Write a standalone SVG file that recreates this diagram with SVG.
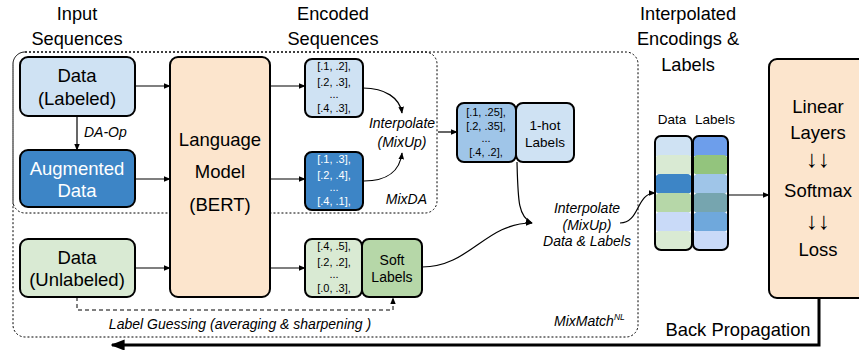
<svg xmlns="http://www.w3.org/2000/svg" width="859" height="350" viewBox="0 0 859 350">
<style>
text{font-family:"Liberation Sans",Arial,sans-serif;fill:#000}
.t{font-size:18.2px;text-anchor:middle}
.n{font-size:18.5px;text-anchor:middle}
.e{font-size:11px;text-anchor:middle}
.s{font-size:13.5px;text-anchor:middle}
.i{font-size:14px;font-style:italic}
.box{stroke:#000;stroke-width:2}
.ln{fill:none;stroke:#000;stroke-width:1.2}
.dash{fill:none;stroke:#000;stroke-width:1;stroke-dasharray:2,2}
</style>
<defs>
<marker id="ah" viewBox="0 0 10 10" refX="9" refY="5" markerWidth="7" markerHeight="7" markerUnits="userSpaceOnUse" orient="auto"><path d="M0,1 L10,5 L0,9 z" fill="#000"/></marker>
<marker id="big" viewBox="0 0 10 10" refX="9" refY="5" markerWidth="14" markerHeight="14" markerUnits="userSpaceOnUse" orient="auto"><path d="M0,1 L10,5 L0,9 z" fill="#000"/></marker>
</defs>

<g id="titles">
<text class="t" x="77" y="20">Input</text>
<text class="t" x="77" y="45">Sequences</text>
<text class="t" x="333" y="20">Encoded</text>
<text class="t" x="333" y="45">Sequences</text>
<text class="t" x="688" y="20">Interpolated</text>
<text class="t" x="688" y="45">Encodings &amp;</text>
<text class="t" x="688" y="71">Labels</text>
</g>

<g id="regions">
<rect class="dash" x="13" y="52" width="625" height="285" rx="12"/>
<rect class="dash" x="13" y="52" width="424" height="161" rx="12"/>
<text class="i" x="427" y="204" text-anchor="end">MixDA</text>
<text class="i" x="554" y="326">MixMatch<tspan font-size="8.5" dy="-6">NL</tspan></text>
</g>

<g id="data-labeled">
<rect class="box" x="20" y="57" width="115" height="59" rx="8" fill="#cfe2f3"/>
<text class="n" x="77" y="82">Data</text>
<text class="n" x="77" y="105">(Labeled)</text>
</g>
<g id="augmented-data">
<rect class="box" x="20" y="150" width="115" height="57" rx="8" fill="#3d85c6"/>
<text class="n" x="77" y="175" style="fill:#fff">Augmented</text>
<text class="n" x="77" y="197" style="fill:#fff">Data</text>
</g>
<g id="data-unlabeled">
<rect class="box" x="20" y="239" width="115" height="58" rx="8" fill="#d9ead3"/>
<text class="n" x="77" y="264">Data</text>
<text class="n" x="77" y="286">(Unlabeled)</text>
</g>
<g id="language-model">
<rect class="box" x="170" y="57" width="100" height="240" rx="8" fill="#fce5cd"/>
<text class="n" x="220" y="146">Language</text>
<text class="n" x="220" y="178">Model</text>
<text class="n" x="220" y="211">(BERT)</text>
</g>
<g id="enc-labeled">
<rect class="box" x="305" y="59" width="58" height="58" rx="7" fill="#cfe2f3"/>
<text class="e" x="334" y="70">[.1, .2],</text>
<text class="e" x="334" y="86">[.2, .3],</text>
<text class="e" x="334" y="98">...</text>
<text class="e" x="334" y="112">[.4, .3],</text>
</g>
<g id="enc-augmented">
<rect class="box" x="305" y="152" width="58" height="58" rx="7" fill="#3d85c6"/>
<text class="e" x="334" y="163" style="fill:#fff">[.1, .3],</text>
<text class="e" x="334" y="179" style="fill:#fff">[.2, .4],</text>
<text class="e" x="334" y="191" style="fill:#fff">...</text>
<text class="e" x="334" y="205" style="fill:#fff">[.4, .1],</text>
</g>
<g id="enc-unlabeled">
<rect class="box" x="305" y="239" width="57" height="58" rx="7" fill="#d9ead3"/>
<text class="e" x="334" y="250">[.4, .5],</text>
<text class="e" x="334" y="266">[.2, .2],</text>
<text class="e" x="334" y="278">...</text>
<text class="e" x="334" y="292">[.0, .3],</text>
</g>
<g id="soft-labels">
<rect class="box" x="362" y="239" width="60" height="58" rx="7" fill="#b6d7a8"/>
<text class="s" x="392" y="265" style="font-size:14px">Soft</text>
<text class="s" x="392" y="282" style="font-size:14px">Labels</text>
</g>
<g id="mixed-encoding">
<rect class="box" x="457" y="103" width="59" height="59" rx="7" fill="#9fc5e8"/>
<text class="e" x="486" y="116">[.1, .25],</text>
<text class="e" x="486" y="130">[.2, .35],</text>
<text class="e" x="486" y="142">...</text>
<text class="e" x="486" y="156">[.4, .2],</text>
</g>
<g id="one-hot-labels">
<rect class="box" x="516" y="103" width="58" height="59" rx="7" fill="#cfe2f3"/>
<text class="s" x="545" y="130">1-hot</text>
<text class="s" x="545" y="147">Labels</text>
</g>

<g id="interp-columns">
<text class="s" x="672" y="124">Data</text>
<text class="s" x="715" y="124">Labels</text>
<clipPath id="c1"><rect x="655" y="136" width="37" height="114" rx="6"/></clipPath>
<clipPath id="c2"><rect x="693" y="136" width="35" height="114" rx="6"/></clipPath>
<g clip-path="url(#c1)">
<rect x="655" y="136" width="37" height="20" fill="#cfe2f3"/>
<rect x="655" y="155" width="37" height="20" rx="5" fill="#d9ead3"/>
<rect x="655" y="174" width="37" height="20" rx="5" fill="#3d85c6"/>
<rect x="655" y="193" width="37" height="20" rx="5" fill="#b6d7a8"/>
<rect x="655" y="212" width="37" height="20" rx="5" fill="#c9daf8"/>
<rect x="655" y="231" width="37" height="19" rx="5" fill="#d9ead3"/>
</g>
<g clip-path="url(#c2)">
<rect x="693" y="136" width="35" height="20" fill="#6d9eeb"/>
<rect x="693" y="155" width="35" height="20" rx="5" fill="#93c47d"/>
<rect x="693" y="174" width="35" height="20" rx="5" fill="#9fc5e8"/>
<rect x="693" y="193" width="35" height="20" rx="5" fill="#76a5af"/>
<rect x="693" y="212" width="35" height="20" rx="5" fill="#6fa8dc"/>
<rect x="693" y="231" width="35" height="19" rx="5" fill="#c9daf8"/>
</g>
<rect x="655" y="136" width="37" height="114" rx="6" fill="none" stroke="#000" stroke-width="2"/>
<rect x="693" y="136" width="35" height="114" rx="6" fill="none" stroke="#000" stroke-width="2"/>
</g>

<g id="classifier">
<rect class="box" x="769" y="59" width="120" height="239" rx="8" fill="#fce5cd"/>
<text class="n" x="818" y="113">Linear</text>
<text class="n" x="818" y="139">Layers</text>
<text class="n" x="818" y="167" style="font-size:24px">↓↓</text>
<text class="n" x="818" y="197">Softmax</text>
<text class="n" x="818" y="229" style="font-size:24px">↓↓</text>
<text class="n" x="818" y="256">Loss</text>
</g>

<g id="connectors">
<path class="ln" d="M135,86 H170" marker-end="url(#ah)"/>
<path class="ln" d="M135,179 H170" marker-end="url(#ah)"/>
<path class="ln" d="M135,268 H170" marker-end="url(#ah)"/>
<path class="ln" d="M270,86 H305" marker-end="url(#ah)"/>
<path class="ln" d="M270,179 H305" marker-end="url(#ah)"/>
<path class="ln" d="M270,268 H305" marker-end="url(#ah)"/>
<path class="ln" d="M77,116 V150" marker-end="url(#ah)"/>
<text class="i" x="84" y="137">DA-Op</text>
<path class="ln" d="M363,88 C385,88 400,98 402,113" marker-end="url(#ah)"/>
<path class="ln" d="M364,181 C388,181 400,170 402,153" marker-end="url(#ah)"/>
<text class="i" x="402" y="128" text-anchor="middle">Interpolate</text>
<text class="i" x="402" y="147" text-anchor="middle">(MixUp)</text>
<path class="ln" d="M438,132 H457" marker-end="url(#ah)"/>
<path class="ln" d="M517,162 C518,200 518,217 532,223" marker-end="url(#ah)"/>
<path class="ln" d="M422,267 C470,267 485,223 532,223" marker-end="url(#ah)"/>
<text class="i" x="587" y="213" text-anchor="middle">Interpolate</text>
<text class="i" x="587" y="230" text-anchor="middle">(MixUp)</text>
<text class="i" x="587" y="246" text-anchor="middle">Data &amp; Labels</text>
<path class="ln" d="M620,223 C640,223 636,193 655,193" marker-end="url(#ah)"/>
<path class="ln" d="M728,195 H769" marker-end="url(#ah)"/>
<path fill="none" stroke="#000" stroke-width="1" stroke-dasharray="4,3" d="M77,297 V310 H393 V298" marker-end="url(#ah)"/>
<text class="i" x="240" y="329" text-anchor="middle">Label Guessing (averaging &amp; sharpening )</text>
<path fill="none" stroke="#000" stroke-width="3" d="M819,298 V345 H112" marker-end="url(#big)"/>
<text x="738" y="336" style="font-size:18.4px;text-anchor:middle">Back Propagation</text>
</g>
</svg>
